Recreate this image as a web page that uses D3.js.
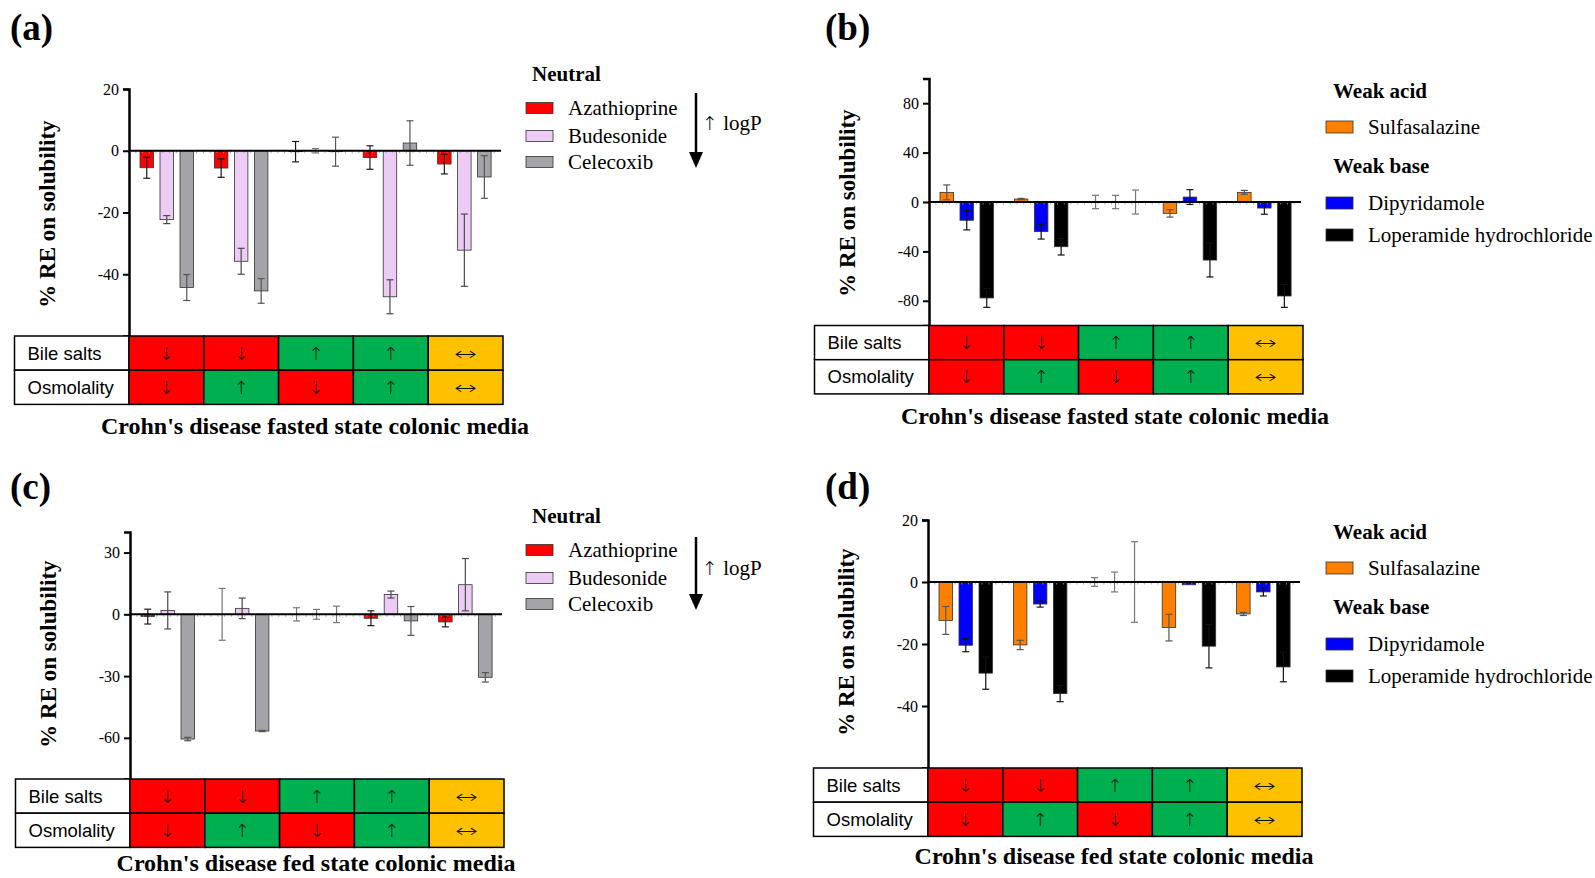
<!DOCTYPE html>
<html>
<head>
<meta charset="utf-8">
<script src="https://cdn.jsdelivr.net/npm/d3@7/dist/d3.min.js"></script>
<style>
  html, body { margin: 0; padding: 0; background: #fff; }
  svg { display: block; }
</style>
</head>
<body>
<svg id="fig" width="1595" height="878"></svg>
<script>
// ---- Media conditions (shared by all four panels) ----
const conditions = ["M1", "M2", "M3", "M4", "M5"];
const bileSalts  = ["↓", "↓", "↑", "↑", "↔"];
const osmolality = ["↓", "↑", "↓", "↑", "↔"];
const tableRows  = ["Bile salts", "Osmolality"];

// ---- Drugs ----
const neutralDrugs   = ["Azathioprine", "Budesonide", "Celecoxib"];
const ionisableDrugs = ["Sulfasalazine", "Dipyridamole", "Loperamide hydrochloride"];

// ---- % RE on solubility (mean, SD) per drug across the five media ----
// (a) neutral drugs, fasted state
const fastedAzathioprine    = [-5.5, -5.6, -0.3, -2.2, -4.3];
const fastedAzathioprineSd  = [3.4, 3.0, 3.3, 3.8, 3.2];
const fastedBudesonide      = [-22.3, -35.8, 0.0, -47.3, -32.2];
const fastedBudesonideSd    = [1.3, 4.2, 0.7, 5.5, 11.7];
const fastedCelecoxib       = [-44.3, -45.4, -0.3, 2.5, -8.5];
const fastedCelecoxibSd     = [4.2, 4.0, 4.7, 7.2, 6.9];
// (b) ionisable drugs, fasted state
const fastedSulfasalazine   = [7.8, 2.4, 0.0, -9.2, 7.8];
const fastedSulfasalazineSd = [6.0, 0.5, 5.4, 3.0, 1.6];
const fastedDipyridamole    = [-14.8, -24.0, 0.0, 4.0, -4.9];
const fastedDipyridamoleSd  = [7.8, 6.0, 5.4, 6.0, 5.0];
const fastedLoperamide      = [-77.7, -36.2, 0.0, -47.0, -76.1];
const fastedLoperamideSd    = [7.6, 6.7, 9.7, 13.7, 9.2];
// (c) neutral drugs, fed state
const fedAzathioprine       = [-1.1, 0.0, 0.0, -1.9, -3.7];
const fedAzathioprineSd     = [3.6, 12.6, 3.2, 3.6, 2.4];
const fedBudesonide         = [1.9, 2.9, 0.0, 9.6, 14.4];
const fedBudesonideSd       = [9.0, 5.0, 2.4, 1.7, 12.7];
const fedCelecoxib          = [-60.6, -56.7, 0.0, -3.2, -30.6];
const fedCelecoxibSd        = [0.8, 0.3, 4.0, 7.0, 2.3];
// (d) ionisable drugs, fed state
const fedSulfasalazine      = [-12.4, -20.3, 0.0, -14.7, -10.3];
const fedSulfasalazineSd    = [4.5, 1.5, 1.4, 4.3, 0.5];
const fedDipyridamole       = [-20.4, -7.1, 0.0, -0.9, -3.2];
const fedDipyridamoleSd     = [2.1, 1.0, 3.2, 0.2, 1.3];
const fedLoperamide         = [-29.4, -36.0, 0.0, -20.7, -27.4];
const fedLoperamideSd       = [5.2, 2.6, 13.0, 7.0, 4.8];

// ---- Axis ticks ----
const ticksA = [20, 0, -20, -40];
const ticksB = [80, 40, 0, -40, -80];
const ticksC = [30, 0, -30, -60];
const ticksD = [20, 0, -20, -40];

// ---- Styling ----
const neutralFill   = ["#ff0000", "#ecccf4", "#a3a3a8"];
const neutralErr    = ["#1a1a1a", "#4a4a4a", "#555555"];
const ionisableFill = ["#ff8000", "#0000ff", "#000000"];
const ionisableErr  = ["#555555", "#111111", "#111111"];
const cellColour = { "↓": "#ff0000", "↑": "#00b050", "↔": "#ffc000" };

const serif = "'Liberation Serif', 'Times New Roman', serif";
const sans  = "'Liberation Sans', Arial, sans-serif";
const arrowFont = "'DejaVu Sans', sans-serif";

const svg = d3.select("#fig");

function panel(cfg) {
  const g = svg.append("g");
  const x0 = cfg.x0, plotW = 372;

  const y = d3.scaleLinear().domain(cfg.domain).range([cfg.yTop, cfg.tableTop]);
  const x = d3.scaleBand().domain(conditions).range([x0, x0 + plotW]);
  const xs = d3.scaleBand().domain(d3.range(3)).range([11, 64.5]).paddingInner(0.325);

  // panel letter
  g.append("text").attr("x", cfg.letterX).attr("y", cfg.letterY)
    .attr("font-family", serif).attr("font-weight", "bold").attr("font-size", 37)
    .text(cfg.letter);

  // y-axis title
  g.append("text")
    .attr("transform", `translate(${x0 - 74},${cfg.labelY}) rotate(-90)`)
    .attr("text-anchor", "middle")
    .attr("font-family", serif).attr("font-weight", "bold").attr("font-size", 23)
    .text("% RE on solubility");

  // bars
  cfg.series.forEach((vals, si) => {
    g.append("g").selectAll("rect").data(vals).join("rect")
      .attr("x", (d, i) => x(conditions[i]) + xs(si))
      .attr("width", xs.bandwidth())
      .attr("y", d => y(Math.max(0, d)))
      .attr("height", d => Math.abs(y(d) - y(0)))
      .attr("fill", cfg.fills[si])
      .attr("stroke", "#333")
      .attr("stroke-width", 0.8);
  });

  // error bars (mean ± SD)
  cfg.series.forEach((vals, si) => {
    const eg = g.append("g").attr("stroke-width", 1.2).attr("fill", "none");
    vals.forEach((m, i) => {
      const sd = cfg.sds[si][i];
      if (sd <= 0.25) return;
      const cx = x(conditions[i]) + xs(si) + xs.bandwidth() / 2;
      const col = m === 0 ? "#777" : cfg.errColours[si];
      const top = y(m + sd), bot = y(m - sd);
      eg.append("line").attr("x1", cx).attr("x2", cx).attr("y1", top).attr("y2", bot).attr("stroke", col);
      eg.append("line").attr("x1", cx - 3.5).attr("x2", cx + 3.5).attr("y1", top).attr("y2", top).attr("stroke", col);
      eg.append("line").attr("x1", cx - 3.5).attr("x2", cx + 3.5).attr("y1", bot).attr("y2", bot).attr("stroke", col);
    });
  });

  // zero baseline with small ticks
  const minor = d3.range(0, plotW, plotW / 55);
  g.append("g").selectAll("line").data(minor).join("line")
    .attr("x1", d => x0 + d).attr("x2", d => x0 + d)
    .attr("y1", y(0)).attr("y2", y(0) + 2.5)
    .attr("stroke", "#999").attr("stroke-width", 0.8);
  g.append("line").attr("x1", x0).attr("x2", x0 + plotW)
    .attr("y1", y(0)).attr("y2", y(0))
    .attr("stroke", "#000").attr("stroke-width", 2);

  // y axis
  const ax = g.append("g").attr("transform", `translate(${x0},0)`)
    .call(d3.axisLeft(y).tickValues(cfg.ticks).tickSize(6).tickPadding(4).tickFormat(d => String(d)));
  ax.select(".domain").attr("stroke-width", 2.5);
  ax.selectAll(".tick line").attr("stroke-width", 2);
  ax.selectAll(".tick text").attr("font-family", serif).attr("font-size", 16).attr("fill", "#000");

  // media table
  const labelW = 114.5, tLeft = x0 - labelW, cellW = 74.8, rowH = 34.2;
  const tg = g.append("g");
  [bileSalts, osmolality].forEach((row, ri) => {
    const ty = cfg.tableTop + ri * rowH;
    tg.append("rect").attr("x", tLeft).attr("y", ty).attr("width", labelW).attr("height", rowH)
      .attr("fill", "#fff").attr("stroke", "#000").attr("stroke-width", 1.5);
    tg.append("text").attr("x", tLeft + 13).attr("y", ty + rowH / 2 + 6.5)
      .attr("font-family", sans).attr("font-size", 18.5).text(tableRows[ri]);
    row.forEach((sym, ci) => {
      const cx = tLeft + labelW + ci * cellW;
      tg.append("rect").attr("x", cx).attr("y", ty).attr("width", cellW).attr("height", rowH)
        .attr("fill", cellColour[sym]).attr("stroke", "#000").attr("stroke-width", 1.5);
      const t = tg.append("text").attr("x", cx + cellW / 2).attr("y", ty + rowH / 2 + 6.5)
        .attr("text-anchor", "middle").attr("font-family", arrowFont).attr("font-size", 18)
        .attr("font-weight", 200).attr("fill", "#111").text(sym);
      if (sym === "↔") t.attr("textLength", 23).attr("lengthAdjust", "spacingAndGlyphs");
    });
  });

  // caption under the table
  g.append("text").attr("x", cfg.x0 + 186).attr("y", cfg.titleY)
    .attr("text-anchor", "middle").attr("font-family", serif).attr("font-weight", "bold")
    .attr("font-size", 24).text(cfg.title);

  // legend
  const lg = g.append("g");
  cfg.legend.forEach(item => {
    if (item.head) {
      lg.append("text").attr("x", item.x).attr("y", item.y)
        .attr("font-family", serif).attr("font-weight", "bold").attr("font-size", 21).text(item.head);
    } else {
      lg.append("rect").attr("x", item.x).attr("y", item.y - item.h / 2).attr("width", item.w).attr("height", item.h)
        .attr("fill", item.fill).attr("stroke", "#333").attr("stroke-width", 0.8);
      lg.append("text").attr("x", item.x + 42).attr("y", item.y + 7)
        .attr("font-family", serif).attr("font-size", 21).text(item.label);
    }
  });

  if (cfg.logP) {
    const ax0 = cfg.logP.x, a1 = cfg.logP.y1, a2 = cfg.logP.y2;
    lg.append("line").attr("x1", ax0).attr("x2", ax0).attr("y1", a1).attr("y2", a2 - 14)
      .attr("stroke", "#000").attr("stroke-width", 2.5);
    lg.append("path").attr("d", `M${ax0 - 7},${a2 - 16} L${ax0 + 7},${a2 - 16} L${ax0},${a2} Z`).attr("fill", "#000");
    const lt = lg.append("text").attr("x", ax0 + 6).attr("y", cfg.logP.ty)
      .attr("font-family", serif).attr("font-size", 21);
    lt.append("tspan").attr("font-family", arrowFont).attr("font-weight", 200).attr("font-size", 19).text("↑");
    lt.append("tspan").text(" logP");
  }
}

function neutralLegend(base) {
  return [
    { head: "Neutral", x: 532, y: base },
    { label: neutralDrugs[0], fill: neutralFill[0], x: 526, y: base + 27, w: 27, h: 11 },
    { label: neutralDrugs[1], fill: neutralFill[1], x: 526, y: base + 55, w: 27, h: 11 },
    { label: neutralDrugs[2], fill: neutralFill[2], x: 526, y: base + 81, w: 27, h: 11 }
  ];
}
function ionisableLegend(base) {
  return [
    { head: "Weak acid", x: 1333, y: base },
    { label: ionisableDrugs[0], fill: ionisableFill[0], x: 1326, y: base + 29, w: 27, h: 12 },
    { head: "Weak base", x: 1333, y: base + 75 },
    { label: ionisableDrugs[1], fill: ionisableFill[1], x: 1326, y: base + 105, w: 27, h: 12 },
    { label: ionisableDrugs[2], fill: ionisableFill[2], x: 1326, y: base + 137, w: 27, h: 12 }
  ];
}

panel({
  letter: "(a)", letterX: 10, letterY: 40, labelY: 214, x0: 129, yTop: 89, tableTop: 336,
  domain: [20, -60], ticks: ticksA,
  series: [fastedAzathioprine, fastedBudesonide, fastedCelecoxib],
  sds: [fastedAzathioprineSd, fastedBudesonideSd, fastedCelecoxibSd],
  fills: neutralFill, errColours: neutralErr,
  title: "Crohn's disease fasted state colonic media", titleY: 434,
  legend: neutralLegend(81), logP: { x: 696, y1: 93, y2: 168, ty: 130 }
});
panel({
  letter: "(b)", letterX: 825, letterY: 40, labelY: 203, x0: 929, yTop: 78.5, tableTop: 325.5,
  domain: [100, -100], ticks: ticksB,
  series: [fastedSulfasalazine, fastedDipyridamole, fastedLoperamide],
  sds: [fastedSulfasalazineSd, fastedDipyridamoleSd, fastedLoperamideSd],
  fills: ionisableFill, errColours: ionisableErr,
  title: "Crohn's disease fasted state colonic media", titleY: 424,
  legend: ionisableLegend(98)
});
panel({
  letter: "(c)", letterX: 10, letterY: 499, labelY: 654, x0: 130, yTop: 532, tableTop: 779,
  domain: [40, -80], ticks: ticksC,
  series: [fedAzathioprine, fedBudesonide, fedCelecoxib],
  sds: [fedAzathioprineSd, fedBudesonideSd, fedCelecoxibSd],
  fills: neutralFill, errColours: neutralErr,
  title: "Crohn's disease fed state colonic media", titleY: 871,
  legend: neutralLegend(523), logP: { x: 696, y1: 537, y2: 610, ty: 575 }
});
panel({
  letter: "(d)", letterX: 825, letterY: 499, labelY: 642, x0: 928, yTop: 520, tableTop: 768,
  domain: [20, -60], ticks: ticksD,
  series: [fedSulfasalazine, fedDipyridamole, fedLoperamide],
  sds: [fedSulfasalazineSd, fedDipyridamoleSd, fedLoperamideSd],
  fills: ionisableFill, errColours: ionisableErr,
  title: "Crohn's disease fed state colonic media", titleY: 864,
  legend: ionisableLegend(539)
});
</script>
</body>
</html>
